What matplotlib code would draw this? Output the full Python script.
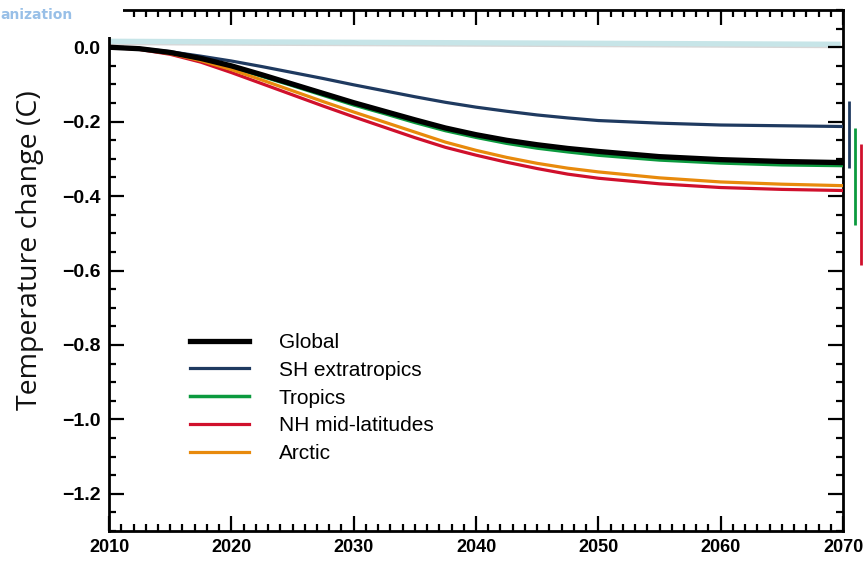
import matplotlib
matplotlib.use("Agg")
import matplotlib.pyplot as plt
from matplotlib.patches import Rectangle
from matplotlib.ticker import MultipleLocator

# --- data ---
years = [2010, 2012.5, 2015, 2017.5, 2020, 2022.5, 2025, 2027.5, 2030, 2032.5, 2035,
         2037.5, 2040, 2042.5, 2045, 2047.5, 2050, 2055, 2060, 2065, 2070]

global_t = [0, -0.004, -0.014, -0.030, -0.050, -0.074, -0.099, -0.124, -0.149, -0.172, -0.195,
            -0.217, -0.235, -0.250, -0.262, -0.272, -0.280, -0.294, -0.302, -0.307, -0.310]
sh_extra = [0, -0.003, -0.012, -0.024, -0.037, -0.052, -0.068, -0.084, -0.101, -0.117, -0.133,
            -0.148, -0.161, -0.172, -0.182, -0.190, -0.197, -0.204, -0.209, -0.211, -0.213]
tropics = [0, -0.004, -0.015, -0.032, -0.053, -0.078, -0.103, -0.129, -0.155, -0.178, -0.202,
           -0.224, -0.242, -0.258, -0.271, -0.281, -0.290, -0.303, -0.311, -0.316, -0.318]
nh_mid = [0, -0.006, -0.019, -0.040, -0.068, -0.098, -0.128, -0.158, -0.187, -0.215, -0.243,
          -0.269, -0.290, -0.309, -0.326, -0.341, -0.352, -0.367, -0.377, -0.382, -0.385]
arctic = [0, -0.005, -0.017, -0.036, -0.060, -0.088, -0.117, -0.146, -0.174, -0.201, -0.228,
          -0.255, -0.277, -0.296, -0.312, -0.325, -0.335, -0.351, -0.362, -0.368, -0.372]

# spread bars drawn just right of the axes (low, high)
range_sh = (-0.324, -0.144)
range_tropics = (-0.479, -0.217)
range_nh = (-0.586, -0.260)

C_BLACK, C_NAVY, C_GREEN = "#000000", "#1f3a60", "#0b9a3e"
C_RED, C_ORANGE = "#d0102c", "#e88a0c"

fig = plt.figure(figsize=(8.64, 5.63), dpi=100)
ax = fig.add_axes([0.1262, 0.0568, 0.8495, 0.9254])

# faint overlay band at the top (slide artefact)
ax.plot([2010.3, 2069.6], [0.010, 0.002], color="#bdbdbd", lw=2.5, alpha=0.6, zorder=1)
ax.plot([2010.3, 2069.6], [0.016, 0.008], color="#c7e5e8", lw=3.8, zorder=1.5)

ax.plot(years, sh_extra, color=C_NAVY, lw=2.3, label="SH extratropics", zorder=3)
ax.plot(years, tropics, color=C_GREEN, lw=2.5, label="Tropics", zorder=3)
ax.plot(years, global_t, color=C_BLACK, lw=3.8, label="Global", zorder=3.5)
ax.plot(years, nh_mid, color=C_RED, lw=2.3, label="NH mid-latitudes", zorder=3)
ax.plot(years, arctic, color=C_ORANGE, lw=2.3, label="Arctic", zorder=3.2)

for x, (lo, hi), c in [(2070.5, range_sh, C_NAVY), (2071.0, range_tropics, C_GREEN),
                       (2071.5, range_nh, C_RED)]:
    ax.plot([x, x], [lo, hi], color=c, lw=2.0, clip_on=False, solid_capstyle="butt")

ax.set_xlim(2010, 2070)
ax.set_ylim(-1.3, 0.1)
ax.xaxis.set_major_locator(MultipleLocator(10))
ax.xaxis.set_minor_locator(MultipleLocator(1))
ax.yaxis.set_minor_locator(MultipleLocator(0.05))
ax.set_yticks([0, -0.2, -0.4, -0.6, -0.8, -1.0, -1.2])
ax.set_yticklabels(["0.0", "\u22120.2", "\u22120.4", "\u22120.6", "\u22120.8",
                    "\u22121.0", "\u22121.2"])
ax.tick_params(which="both", direction="in", top=True, right=True, width=1.6)
ax.tick_params(which="major", length=11, pad=6)
ax.tick_params(which="minor", length=5)
for lab in ax.get_yticklabels():
    lab.set_fontfamily("Liberation Sans")
    lab.set_fontweight("bold")
    lab.set_fontsize(14)
for lab in ax.get_xticklabels():
    lab.set_fontfamily("Liberation Sans")
    lab.set_fontweight("bold")
    lab.set_fontsize(13)
for s in ax.spines.values():
    s.set_linewidth(2.0)

leg = ax.legend(handles=[ax.lines[4], ax.lines[2], ax.lines[3], ax.lines[5], ax.lines[6]],
                loc="upper left", bbox_to_anchor=(0.085, 0.416), frameon=False,
                prop={"family": "Liberation Sans", "size": 15},
                handlelength=2.8, handletextpad=1.45, labelspacing=0.42)

fig.text(30 / 864, 1 - 250 / 563, "Temperature change (C)", rotation=90,
         ha="center", va="center", fontsize=20.5, family="Open Sans", color="#111111")

# white block hiding the top-left corner, with clipped heading text
fig.add_artist(Rectangle((0, 1 - 37 / 563), 123 / 864, 37 / 563,
                         transform=fig.transFigure, facecolor="white",
                         edgecolor="none", zorder=10))
fig.text(0.0, 1 - 15 / 563, "anization", color="#7eb0e2", fontsize=10,
         fontweight="bold", va="center", ha="left", zorder=11, alpha=0.8)

fig.savefig("out.png", dpi=100, facecolor="white")
